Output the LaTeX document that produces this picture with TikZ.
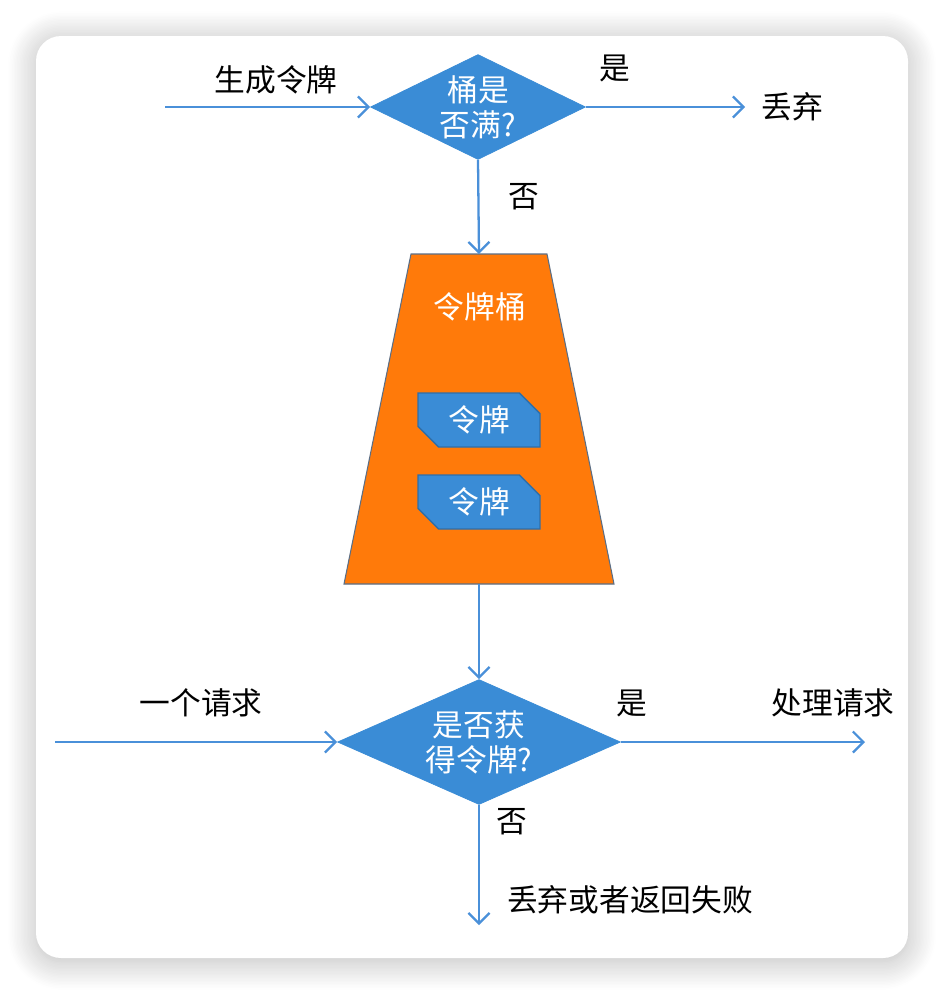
\documentclass[tikz,border=0pt]{standalone}
\usepackage{fontspec}
\setmainfont{Noto Sans CJK SC}
\usepackage{xcolor}
\usetikzlibrary{arrows.meta,shapes.geometric,shapes.misc,shadows.blur}
\definecolor{lineblue}{HTML}{4A90D9}
\definecolor{boxblue}{HTML}{3A8CD6}
\definecolor{tokenedge}{HTML}{2F6EA8}
\definecolor{bucketorange}{HTML}{FF7A0A}
\definecolor{bucketedge}{HTML}{5A6E86}

\begin{document}
\begin{tikzpicture}[x=0.02cm,y=-0.02cm,
  flow/.style={draw=lineblue,line width=1.3pt,-{Straight Barb[length=6pt,width=12pt]}},
  decision/.style={diamond,fill=boxblue,draw=boxblue,inner sep=0pt},
  intext/.style={text=white,align=center,font=\fontsize{17.5}{20}\selectfont},
  lbl/.style={text=black,font=\fontsize{17.5}{20}\selectfont},
  token/.style={chamfered rectangle,chamfered rectangle corners={north east,south west},
    chamfered rectangle xsep=0.5cm,fill=boxblue,draw=tokenedge,line width=0.8pt,
    minimum width=2.44cm,minimum height=1.08cm,inner sep=0pt}]
\useasboundingbox (0,0) rectangle (944,994);

% card
\fill[white,rounded corners=0.5cm,
  blur shadow={shadow blur radius=16pt,shadow xshift=0pt,shadow yshift=-2pt,shadow opacity=28,shadow blur steps=20}]
  (36,36) rectangle (908,958);

% bucket full?
\node[decision,minimum width=4.3cm,minimum height=2.1cm] (full) at (478,107) {};
\node[intext] (fulltext) at (478,107) {桶是\\否满?};

% bucket with tokens
\coordinate (buckettop) at (479,254);
\coordinate (bucketbottom) at (479,584);
\draw[fill=bucketorange,draw=bucketedge,line width=0.6pt]
  (411,254) -- (547,254) -- (614,584) -- (344,584) -- cycle;
\node[intext] (buckettext) at (480,307) {令牌桶};
\node[token,intext] (tokA) at (479,420) {令牌};
\node[token,intext] (tokB) at (479,502) {令牌};

% got token?
\node[decision,minimum width=5.66cm,minimum height=2.5cm] (got) at (479,742) {};
\node[intext] (gottext) at (479,742) {是否获\\得令牌?};

% free ends
\coordinate (genin) at (165,107);
\coordinate (dropout) at (745,107);
\coordinate (reqin) at (55,742);
\coordinate (handleout) at (865,742);
\coordinate (failout) at (479,925);

% connectors
\draw[flow] (genin) -- (full.west);
\draw[flow] (full.east) -- (dropout);
\draw[flow] (full.south) -- (buckettop);
\draw[flow] (bucketbottom) -- (got.north);
\draw[flow] (reqin) -- (got.west);
\draw[flow] (got.east) -- (handleout);
\draw[flow] (got.south) -- (failout);

% labels
\node[lbl] (genlbl) at (276,80) {生成令牌};
\node[lbl] (yes1) at (615,68) {是};
\node[lbl] (droplbl) at (792,107) {丢弃};
\node[lbl] (no1) at (524,197) {否};
\node[lbl] (reqlbl) at (201,703) {一个请求};
\node[lbl] (yes2) at (632,703) {是};
\node[lbl] (handlelbl) at (833,703) {处理请求};
\node[lbl] (no2) at (512,822) {否};
\node[lbl] (faillbl) at (630,900) {丢弃或者返回失败};
\end{tikzpicture}
\end{document}
